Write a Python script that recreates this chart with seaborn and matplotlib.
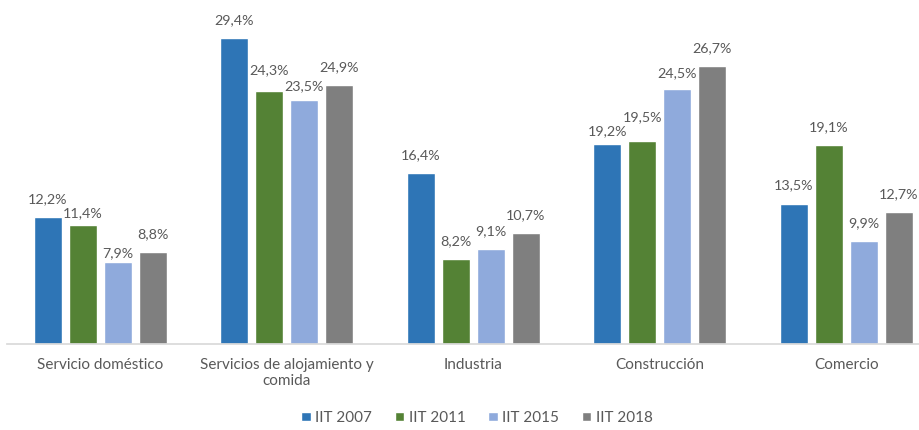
import matplotlib
matplotlib.use("Agg")
import matplotlib.pyplot as plt
import seaborn as sns
import pandas as pd

# Share of workers by sector and survey year (%)
categories = ["Servicio doméstico", "Servicios de alojamiento y\ncomida",
              "Industria", "Construcción", "Comercio"]
series_names = ["IIT 2007", "IIT 2011", "IIT 2015", "IIT 2018"]
iit_2007 = [12.2, 29.4, 16.4, 19.2, 13.5]
iit_2011 = [11.4, 24.3, 8.2, 19.5, 19.1]
iit_2015 = [7.9, 23.5, 9.1, 24.5, 9.9]
iit_2018 = [8.8, 24.9, 10.7, 26.7, 12.7]
colors = ["#2E75B6", "#548235", "#8FAADC", "#7F7F7F"]

rows = []
for name, vals in zip(series_names, [iit_2007, iit_2011, iit_2015, iit_2018]):
    for cat, v in zip(categories, vals):
        rows.append({"sector": cat, "serie": name, "valor": v})
df = pd.DataFrame(rows)

sns.set_theme(style="white")
plt.rcParams["font.family"] = ["Lato", "DejaVu Sans"]
text_color = "#595959"

W, H = 919, 430
fig = plt.figure(figsize=(W / 100, H / 100), dpi=100)
# plot area runs to the right edge of the figure; each category is ~187 px wide
left_px, cat_px = 7, 186.5
ax = fig.add_axes([left_px / W, 86 / H, (W - left_px) / W, 0.774])

sns.barplot(data=df, x="sector", y="valor", hue="serie", order=categories,
            hue_order=series_names, palette=colors, width=0.75, gap=0.2,
            saturation=1, errorbar=None, ax=ax, legend=True)

# height (px) of each value label's centre above its bar; a few labels are
# nudged so that neighbouring labels do not collide
default_rise = 18
rise_nudge = {(1, 0): 12, (2, 0): 9, (1, 1): 21, (2, 1): 13,
              (0, 3): 13, (1, 3): 24, (2, 3): 16}

for si, cont in enumerate(ax.containers):
    for ci, bar in enumerate(cont):
        h = bar.get_height()
        rise = rise_nudge.get((si, ci), default_rise)
        ax.annotate(f"{h:.1f}%".replace(".", ","),
                    xy=(bar.get_x() + bar.get_width() / 2, h),
                    xytext=(0, rise * 0.72), textcoords="offset points",
                    ha="center", va="center", fontsize=10.3, color=text_color)

ax.set_ylim(0, 32)
ax.set_xlim(-0.5, -0.5 + (W - left_px) / cat_px)
ax.set_xlabel("")
ax.set_ylabel("")
ax.set_yticks([])
for side in ["top", "left", "right"]:
    ax.spines[side].set_visible(False)
ax.spines["bottom"].set_color("#D9D9D9")
ax.tick_params(axis="x", length=0, pad=10, labelsize=11, labelcolor=text_color)

handles, labels = ax.get_legend_handles_labels()
ax.get_legend().remove()
fig.legend(handles, labels, loc="lower center", bbox_to_anchor=(0.519, -0.02),
           ncol=4, frameon=False, fontsize=11, labelcolor=text_color,
           handlelength=0.6, handleheight=0.6, handletextpad=0.3,
           columnspacing=1.5)

fig.savefig("out.png", dpi=100)
